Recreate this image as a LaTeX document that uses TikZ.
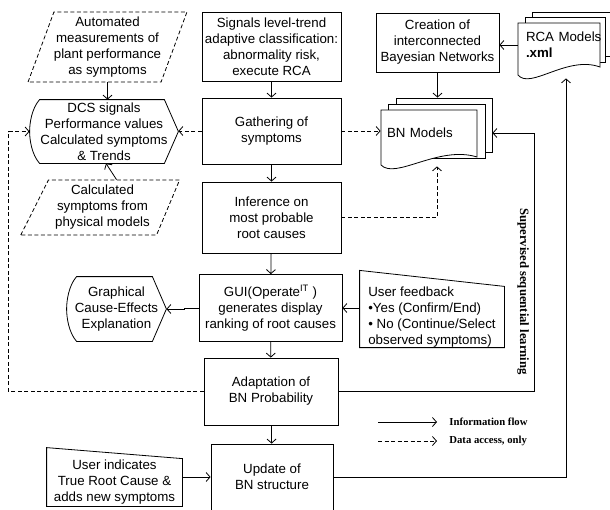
\documentclass[tikz,border=0pt]{standalone}
\usepackage{fontspec}
\setmainfont{Liberation Sans}
\newfontfamily\legfont{Liberation Serif}
\usetikzlibrary{arrows.meta,shapes.geometric,positioning,calc}

% outline of a display shape (round left side, pointed right side)
\newcommand{\dispoutline}[1]{%
  \draw ($(#1.north west)+(10,0)$) -- ($(#1.north east)+(-14,0)$) -- (#1.east)
    -- ($(#1.south east)+(-14,0)$) -- ($(#1.south west)+(10,0)$)
    .. controls ($(#1.south west)+(2,-9)$) and ($(#1.west)+(0,8)$) .. (#1.west)
    .. controls ($(#1.west)+(0,-8)$) and ($(#1.north west)+(2,9)$) .. cycle;}
% outline of a manual input shape, left top corner raised by #2
\newcommand{\manualoutline}[2]{%
  \draw (#1.south west) -- ($(#1.north west)+(0,-#2)$) -- (#1.north east)
    -- (#1.south east) -- cycle;}
% front page of a document stack: left, top, right, bottom
\newcommand{\docfront}[4]{%
  \draw[fill=white] (#1,#4) -- (#1,#2) -- (#3,#2) -- (#3,#4-8)
    .. controls ({#1+0.6*(#3-#1)},#4-20) and ({#1+0.15*(#3-#1)},#4+15) .. cycle;}

\tikzset{
  box/.style={rectangle,draw,align=center,inner sep=0pt},
  datain/.style={trapezium,draw,dash pattern=on 4pt off 2.5pt,align=center,
    inner sep=0pt,trapezium stretches=true},
  plain/.style={rectangle,align=center,inner sep=0pt},
  docback/.style={rectangle,draw,fill=white,inner sep=0pt},
  doctext/.style={rectangle,align=left,inner sep=0pt},
  flow/.style={->},
  access/.style={->,dash pattern=on 4pt off 2.5pt},
  legtext/.style={font=\legfont\bfseries\fontsize{10.7}{13}\selectfont,inner sep=2pt}
}

\begin{document}
\begin{tikzpicture}[x=1pt,y=-1pt,line width=0.8pt,
  >={Straight Barb[length=4pt,width=9pt]},
  font=\fontsize{13.3}{16}\selectfont]
\useasboundingbox (0,0) rectangle (610,509);

% main chain
\node[box,minimum width=139,minimum height=69] (sig) at (271.5,46.5) {Signals level-trend\\adaptive classification:\\abnormality risk,\\execute RCA};
\node[box,minimum width=139,minimum height=66] (gat) at (271.5,131) {Gathering of\\symptoms};
\node[box,minimum width=139,minimum height=71] (inf) at (271.5,217.5) {Inference on\\most probable\\root causes};
\node[box,minimum width=143,minimum height=67] (gui) at (270.5,308) {GUI(Operate\textsuperscript{IT} )\\generates display\\ranking of root causes};
\node[box,minimum width=134,minimum height=67] (ada) at (271,391.5) {Adaptation of\\BN Probability};
\node[box,minimum width=122,minimum height=66] (upd) at (272,477) {Update of\\BN structure};
\node[box,minimum width=123,minimum height=59] (cre) at (437.5,42.5) {Creation of\\interconnected\\Bayesian Networks};

% data inputs
\node[datain,trapezium left angle=66.8,trapezium right angle=113.2,minimum width=159,minimum height=70] (auto) at (107.5,47) {Automated\\measurements of\\plant performance\\as symptoms};
\node[datain,trapezium left angle=61.4,trapezium right angle=114.4,minimum width=159,minimum height=55] (calc) at (102.5,207.5) {Calculated\\symptoms from\\physical models};

% displays
\node[plain,minimum width=148,minimum height=63] (dcs) at (104,131.5) {DCS signals\\Performance values\\Calculated symptoms\\\& Trends};
\dispoutline{dcs}
\node[plain,minimum width=99,minimum height=64] (graph) at (116.5,309) {Graphical\\Cause-Effects\\Explanation};
\dispoutline{graph}

% manual inputs
\node[plain,minimum width=144,minimum height=60,align=left] (fb) at (432,317) {User feedback\\•Yes (Confirm/End)\\• No (Continue/Select\\observed symptoms)};
\manualoutline{fb}{16}
\node[plain,minimum width=135,minimum height=47] (usr) at (114.5,482.5) {User indicates\\True Root Cause \&\\adds new symptoms};
\manualoutline{usr}{11}

% BN models stack
\node[docback,minimum width=96,minimum height=54] (bn3) at (444,125) {};
\node[docback,minimum width=97,minimum height=54] (bn2) at (436.5,131) {};
\docfront{381}{110}{477}{165}
\node[doctext,minimum width=96,minimum height=46,text width=84] (bn) at (429,133) {BN Models};

% RCA models stack
\node[docback,minimum width=83,minimum height=44] (rca3) at (573.5,34) {};
\node[docback,minimum width=80,minimum height=45] (rca2) at (565,39.5) {};
\docfront{518}{23}{600}{75}
\node[doctext,minimum width=82,minimum height=44,text width=66] (rca) at (559,45) {\mbox{RCA Models}\\\textbf{.xml}};

% information flow
\draw[flow] (sig) -- (gat);
\draw[flow] (gat) -- (inf);
\draw[flow] (inf) -- (gui);
\draw[flow] (gui) -- (ada);
\draw[flow] (ada) -- (upd);
\draw[flow] (auto.south) -- (auto.south |- dcs.north);
\draw[flow] ($(calc.north)+(14,0)$) -- ($(dcs.south)+(2,0)$);
\draw[flow] (gui.west) -- ++(-14,0) |- (graph.east);
\draw[flow] (gui.east -| fb.west) -- (gui.east);
\draw[flow] (usr.east |- upd.west) -- (upd.west);
\draw[flow] (rca.west) -- (rca.west -| cre.east);
\draw[flow] (cre.south) -- (cre.south |- bn3.north);
\draw[flow] (upd.east) -| ($(rca.south)+(7,11)$);
\draw[flow] (ada.east) -- ++(196,0) |- (bn.east -| bn3.east);
\node[rotate=-90,font=\legfont\bfseries\fontsize{12.7}{15}\selectfont] (sup) at (523,291.5) {Supervised sequential learning};

% data access
\draw[access] (gat.west) -- (gat.west -| dcs.east);
\draw[access] (gat.east) -- (gat.east -| bn.west);
\draw[access] (inf.east) -| ($(bn.south)+(8,10)$);
\draw[access] (ada.west) -- ++(-195,0) |- (dcs.west);

% legend
\node[legtext,anchor=west] (leg1) at (447,422) {Information flow};
\node[legtext,anchor=west] (leg2) at (447,441) {Data access, only};
\draw[flow] ($(leg1.west)+(-69,0)$) -- ($(leg1.west)+(-10,0)$);
\draw[access] ($(leg2.west)+(-69,0)$) -- ($(leg2.west)+(-10,0)$);
\end{tikzpicture}
\end{document}
